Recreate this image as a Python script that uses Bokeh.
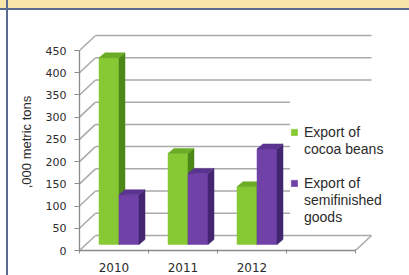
from bokeh.plotting import figure
from bokeh.models import ColumnDataSource, Range1d, FixedTicker, Legend, LegendItem
from bokeh.embed import file_html
from bokeh.resources import INLINE

# ---------------- data ----------------
years = ["2010", "2011", "2012"]
cocoa_beans = [420, 205, 130]
semifinished = [112, 160, 215]
y_ticks = [0, 50, 100, 150, 200, 250, 300, 350, 400, 450]
series_labels = ["Export of\ncocoa beans", "Export of\nsemifinished\ngoods"]
y_axis_title = ",000 metric tons"

# ---------------- style / geometry (pixels converted to data units) ----------------
W_PX, H_PX = 409, 275
B_LEFT, B_RIGHT, B_TOP, B_BOTTOM = 79, 4, 33, 25
FRAME_W, FRAME_H = W_PX - B_LEFT - B_RIGHT, H_PX - B_TOP - B_BOTTOM
KX = 69.0            # px per category slot
KY = 200.0 / 450.0   # px per unit
DX, DY = 16.0 / KX, 15.0 / KY      # depth of the chart box
OX, OY = 5.0 / KX, 6.0 / KY        # bars sit in the middle of the depth
BX, BY = 6.0 / KX, 5.0 / KY        # depth of a bar
BW = 20.0 / KX                     # bar width
N_SLOTS = len(years) + 1

FRONT = ["#86c934", "#7042a8"]
SIDE = ["#4d8619", "#43266f"]
TOP = ["#6cab25", "#5a3490"]
GRID = "#a9a9a9"
AXIS = "#8a8a8a"
TEXT = "#2b2b2b"

p = figure(width=W_PX, height=H_PX,
           x_range=Range1d(0, FRAME_W / KX), y_range=Range1d(0, FRAME_H / KY),
           output_backend="svg", toolbar_location=None,
           min_border_left=B_LEFT, min_border_right=B_RIGHT,
           min_border_top=B_TOP, min_border_bottom=B_BOTTOM)
p.outline_line_color = None
p.border_fill_color = None
p.background_fill_color = "white"
p.xgrid.visible = False
p.ygrid.visible = False
p.styles = {
    "background": ("linear-gradient(to right, transparent 6px, #5b6b8f 6px, #5b6b8f 8px, transparent 8px), "
                   "linear-gradient(to bottom, #f8e6aa 0px, #f8e6aa 8px, #5b6b8f 8px, #5b6b8f 10px, #ffffff 10px)"),
}

# ---------------- back wall grid + side-wall diagonals ----------------
p.segment(x0=[0] * len(y_ticks), y0=y_ticks, x1=[DX] * len(y_ticks), y1=[v + DY for v in y_ticks],
          line_color=GRID, line_width=1.5)
p.segment(x0=[DX] * len(y_ticks), y0=[v + DY for v in y_ticks],
          x1=[N_SLOTS + DX] * len(y_ticks), y1=[v + DY for v in y_ticks],
          line_color=GRID, line_width=1.5)
# floor right edge
p.segment(x0=[N_SLOTS], y0=[0], x1=[N_SLOTS + DX], y1=[DY], line_color=GRID, line_width=1.5)

# ---------------- 3D bars ----------------
centers = [i + 0.5 for i in range(len(years))]
fronts = []
for j, vals in enumerate([cocoa_beans, semifinished]):
    left = [c - BW + j * BW + OX for c in centers]
    right = [l + BW for l in left]
    bottom = [OY] * len(vals)
    top = [OY + v for v in vals]
    side_xs = [[r, r + BX, r + BX, r] for r in right]
    side_ys = [[b, b + BY, t + BY, t] for b, t in zip(bottom, top)]
    top_xs = [[l, r, r + BX, l + BX] for l, r in zip(left, right)]
    top_ys = [[t, t, t + BY, t + BY] for t in top]
    src = ColumnDataSource(dict(left=left, right=right, bottom=bottom, top=top))
    fr = p.quad(left="left", right="right", bottom="bottom", top="top", source=src,
                fill_color=FRONT[j], line_color=FRONT[j], line_width=0.5)
    p.patches(xs=side_xs, ys=side_ys, fill_color=SIDE[j], line_color=SIDE[j], line_width=0.5)
    p.patches(xs=top_xs, ys=top_ys, fill_color=TOP[j], line_color=TOP[j], line_width=0.5)
    fronts.append(fr)

# an empty, invisible renderer used for continuation lines of the legend labels
blank = p.quad(left=[], right=[], bottom=[], top=[], fill_alpha=0, line_alpha=0)

# ---------------- axes ----------------
ya = p.yaxis[0]
ya.ticker = FixedTicker(ticks=y_ticks)
ya.bounds = (0, y_ticks[-1])
ya.axis_label = y_axis_title
ya.axis_label_text_font = "Liberation Sans"
ya.axis_label_text_font_size = "13px"
ya.axis_label_text_font_style = "normal"
ya.axis_label_text_color = TEXT
ya.axis_label_standoff = 9
ya.major_label_text_font = "DejaVu Sans"
ya.major_label_text_font_size = "11px"
ya.major_label_text_color = TEXT
ya.major_label_standoff = 8
ya.axis_line_color = AXIS
ya.major_tick_line_color = AXIS
ya.major_tick_out = 5
ya.major_tick_in = 0
ya.minor_tick_line_color = None
ya.axis_line_width = 1.3

xa = p.xaxis[0]
xa.ticker = FixedTicker(ticks=centers, minor_ticks=list(range(N_SLOTS + 1)))
xa.major_label_overrides = {c: y for c, y in zip(centers, years)}
xa.bounds = (0, N_SLOTS)
xa.major_label_text_font = "DejaVu Sans"
xa.major_label_text_font_size = "12px"
xa.major_label_text_color = TEXT
xa.major_tick_line_color = None
xa.major_tick_out = 0
xa.major_tick_in = 0
xa.minor_tick_line_color = AXIS
xa.minor_tick_out = 3
xa.minor_tick_in = 1
xa.major_label_standoff = 9
xa.axis_line_color = AXIS
xa.axis_line_width = 1.3

# ---------------- legend (square aligned with the first line of each label) ----------------
items = []
for k, (lab, fr) in enumerate(zip(series_labels, fronts)):
    if k > 0:
        items.append(LegendItem(label=" ", renderers=[blank]))
    lines = lab.split("\n")
    items.append(LegendItem(label=lines[0], renderers=[fr]))
    for ln in lines[1:]:
        items.append(LegendItem(label=ln, renderers=[blank]))

legend = Legend(items=items, location=(211, 25))
legend.background_fill_color = "white"
legend.background_fill_alpha = 1.0
legend.border_line_color = None
legend.label_text_font = "Liberation Sans"
legend.label_text_font_size = "14px"
legend.label_text_color = TEXT
legend.label_height = 17
legend.glyph_width = 8
legend.glyph_height = 8
legend.label_standoff = 6
legend.spacing = 0
legend.padding = 8
legend.title = " "
legend.title_text_font_size = "30px"
legend.title_standoff = 4
p.add_layout(legend, "center")

open("out.html", "w").write(file_html(p, INLINE))
